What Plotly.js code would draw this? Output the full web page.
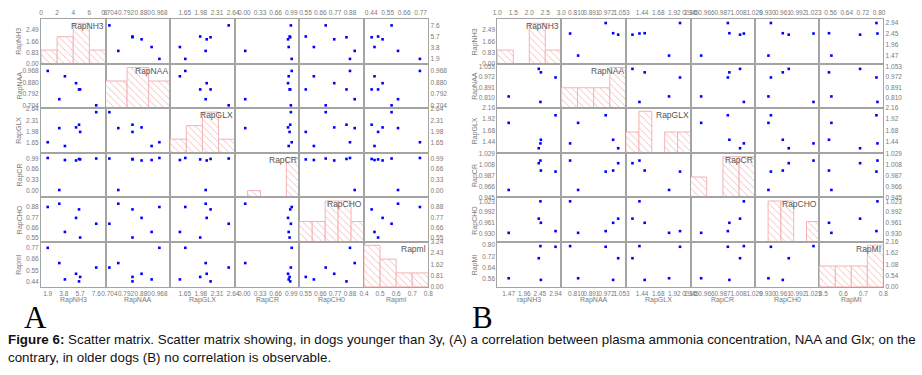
<!DOCTYPE html>
<html><head><meta charset="utf-8">
<script src="https://cdn.plot.ly/plotly-3.0.1.min.js"></script>
<style>html,body{margin:0;padding:0;background:#fff;}#chart{width:922px;height:375px;}</style>
</head><body><div id="chart"></div>
<script>
// ---------- DATA: panel A (dogs younger than 3y), one value per dog ----------
const nh3A = [1.90, 3.26, 3.92, 5.23, 5.58, 5.71, 7.60];
const naaA = [0.968, 0.751, 0.927, 0.874, 0.826, 0.826, 0.704];
const glxA = [1.662, 2.079, 1.551, 2.100, 2.179, 1.967, 2.550];
const crA  = [1.000, 0.018, 0.937, 0.923, 0.969, 0.956, 0.983];
const choA = [0.880, 0.915, 0.612, 0.763, 0.854, 0.552, 0.700];
const miA  = [0.765, 0.619, 0.462, 0.516, 0.443, 0.486, 0.576];
// ---------- DATA: panel B (older dogs) ----------
const nh3B = [1.47, 2.94, 2.48, 2.466, 2.414];
const naaB = [0.820, 0.968, 1.008, 0.777, 1.035];
const glxB = [1.841, 2.004, 1.478, 1.400, 1.296];
const crB  = [0.959, 0.994, 0.996, 1.015, 1.010];
const choB = [0.932, 0.937, 0.961, 1.023, 0.973];
const miB  = [0.564, 0.787, 0.552, 0.792, 0.706];

// ---------- variable names ----------
const diagNamesA   = ['RapNH3','RapNAA','RapGLX','RapCR','RapCHO','Rapml'];
const bottomNamesA = ['RapNH3','RapNAA','RapGLX','RapCR','RapCH0','Rapml'];
const leftNamesA   = ['RapNH3','RapNAA','RapGLX','RapCR','RapCHO','Rapml'];
const diagNamesB   = ['RapNH3','RapNAA','RapGLX','RapCR','RapCHO','RapMI'];
const bottomNamesB = ['rapNH3','RapNAA','RapGLX','RapCR','RapCH0','RapMI'];
const leftNamesB   = ['RapNH3','RapNAA','RapGLX','RapCR','RapCHO','RapMI'];

// ---------- tick labels ----------
const tNH3A = ['1.9','3.8','5.7','7.6'];
const tNAAA = ['0.704','0.792','0.880','0.968'];
const tGLXA = ['1.65','1.98','2.31','2.64'];
const tCRA  = ['0.00','0.33','0.66','0.99'];
const tCHOA = ['0.55','0.66','0.77','0.88'];
const tMIA  = ['0.44','0.55','0.66','0.77'];
const hxFirstA = ['0','2','4','6','8'];
const hyFirstA = ['0.00','0.83','1.66','2.49'];
const hxLastA  = ['0.4','0.5','0.6','0.7','0.8'];
const hyLastA  = ['0.00','0.81','1.62','2.43','3.24'];

const tNH3B = ['1.47','1.96','2.45','2.94'];
const tNAAB = ['0.810','0.891','0.972','1.053'];
const tGLXB = ['1.44','1.68','1.92','2.16'];
const tCRB  = ['0.945','0.966','0.987','1.008','1.029'];
const tCHOB = ['0.930','0.961','0.992','1.023'];
const tMIB  = ['0.56','0.64','0.72','0.80'];
const hxFirstB = ['1.0','1.5','2.0','2.5','3.0'];
const hyFirstB = ['0.00','0.83','1.66','2.49'];
const hxLastB  = ['0.5','0.6','0.7','0.8'];
const hyLastB  = ['0.00','0.54','1.08','1.62','2.16'];

// ---------- geometry / styling ----------
const W = 922, H = 375;
const rowsY = [19, 63.5, 108, 152.7, 197.3, 242, 286.7];
const colsA = [41, 105.5, 170.2, 234.7, 299.3, 364, 428.3];
const colsB = [497.3, 561.3, 626, 690.5, 755.3, 819.3, 883.3];

const cfgA = {
  data: [nh3A, naaA, glxA, crA, choA, miA],
  ticks: [tNH3A, tNAAA, tGLXA, tCRA, tCHOA, tMIA],
  ranges: [[1.111, 8.69], [0.6835, 1.025], [1.353, 2.673], [-0.205, 1.161], [0.5039, 0.984], [0.392, 0.821]],
  bins: [{start:0,end:8,size:2},{start:0.70,end:0.97,size:0.09},{start:1.32,end:2.64,size:0.33},
         {start:-0.25,end:1.05,size:0.26},{start:0.504,end:0.984,size:0.096},{start:0.4,end:0.8,size:0.1}],
  hmax: [3.32, 3.3, 3.3, 6.7, 2.18, 3.24],
  hxFirst: hxFirstA, hyFirst: hyFirstA, hxLast: hxLastA, hyLast: hyLastA,
  cols: colsA, diag: diagNamesA, bottom: bottomNamesA, left: leftNamesA,
  leftTitleX: 19.5, letter: 'A', letterX: 35.5
};
const cfgB = {
  data: [nh3B, naaB, glxB, crB, choB, miB],
  ticks: [tNH3B, tNAAB, tGLXB, tCRB, tCHOB, tMIB],
  ranges: [[1.113, 3.121], [0.7297, 1.077], [1.2, 2.16], [0.945, 1.030], [0.9055, 1.0347], [0.504, 0.821]],
  bins: [{start:1.0,end:3.0,size:0.5},{start:0.73,end:1.07,size:0.085},{start:1.2,end:2.16,size:0.192},
         {start:0.945,end:1.03,size:0.02125},{start:0.905,end:1.035,size:0.026},{start:0.48,end:0.80,size:0.08}],
  hmax: [3.32, 2.2, 2.16, 2.2, 2.18, 2.16],
  hxFirst: hxFirstB, hyFirst: hyFirstB, hxLast: hxLastB, hyLast: hyLastB,
  cols: colsB, diag: diagNamesB, bottom: bottomNamesB, left: leftNamesB,
  leftTitleX: 475, letter: 'B', letterX: 482.5
};

const tickFont = {family: 'Liberation Sans, Arial, sans-serif', size: 6.5, color: '#7a7a7a'};
const lineColor = '#a4a4a4';
const traces = [];
const layout = {
  width: W, height: H, margin: {l:0, r:0, t:0, b:0},
  paper_bgcolor: '#fff', plot_bgcolor: '#fff', showlegend: false, bargap: 0,
  annotations: []
};
let axN = 0;
const px = v => v / W;
const py = v => 1 - v / H;

function baseAxis() {
  return {showgrid:false, zeroline:false, showline:true, mirror:true, linecolor:lineColor, linewidth:1,
          ticks:'', tickangle:0, tickfont:tickFont, fixedrange:true, automargin:false};
}

function buildMatrix(cfg) {
  for (let r = 0; r < 6; r++) {
    for (let c = 0; c < 6; c++) {
      axN++;
      const xid = 'x' + (axN === 1 ? '' : axN), yid = 'y' + (axN === 1 ? '' : axN);
      const xname = 'xaxis' + (axN === 1 ? '' : axN), yname = 'yaxis' + (axN === 1 ? '' : axN);
      const xa = baseAxis(), ya = baseAxis();
      xa.domain = [px(cfg.cols[c]), px(cfg.cols[c + 1])];
      ya.domain = [py(rowsY[r + 1]), py(rowsY[r])];
      xa.anchor = yid; ya.anchor = xid;
      if (r === c) {
        const b = cfg.bins[c];
        traces.push({type:'histogram', x: cfg.data[c], xaxis: xid, yaxis: yid,
          xbins: {start: b.start, end: b.end, size: b.size}, autobinx: false,
          marker: {color:'#ffffff', line:{color:'#f3b3b3', width:1},
                   pattern:{shape:'\\', fgcolor:'#f4a4a4', bgcolor:'#ffffff', size:5, solidity:0.14}},
          hoverinfo:'skip'});
        xa.range = [b.start, b.end];
        ya.range = [0, cfg.hmax[c]];
        if (r === 0) { xa.tickvals = cfg.hxFirst.map(Number); xa.ticktext = cfg.hxFirst; }
        if (r === 5) { xa.tickvals = cfg.hxLast.map(Number); xa.ticktext = cfg.hxLast; }
        if (c === 0) { ya.tickvals = cfg.hyFirst.map(Number); ya.ticktext = cfg.hyFirst; }
        if (c === 5) { ya.tickvals = cfg.hyLast.map(Number); ya.ticktext = cfg.hyLast; }
        layout.annotations.push({xref:'paper', yref:'paper', x: px(cfg.cols[c + 1]) , y: py(rowsY[r]) ,
          xanchor:'right', yanchor:'top', showarrow:false, text: cfg.diag[c],
          font:{family:'Liberation Sans, Arial, sans-serif', size:8.5, color:'#555'}});
      } else {
        traces.push({type:'scatter', mode:'markers', x: cfg.data[c], y: cfg.data[r], xaxis: xid, yaxis: yid,
          marker:{symbol:'square', size:2.6, color:'#0000ff', line:{width:0}}, hoverinfo:'skip', cliponaxis:false});
        xa.range = cfg.ranges[c];
        ya.range = cfg.ranges[r];
        xa.tickvals = cfg.ticks[c].map(Number); xa.ticktext = cfg.ticks[c];
        ya.tickvals = cfg.ticks[r].map(Number); ya.ticktext = cfg.ticks[r];
      }
      xa.showticklabels = (r === 0 || r === 5);
      xa.side = r === 0 ? 'top' : 'bottom';
      ya.showticklabels = (c === 0 || c === 5);
      ya.side = c === 0 ? 'left' : 'right';
      layout[xname] = xa; layout[yname] = ya;
    }
  }
  const titleFont = {family:'Liberation Sans, Arial, sans-serif', size:7, color:'#7a7a7a'};
  for (let k = 0; k < 6; k++) {
    layout.annotations.push({xref:'paper', yref:'paper', x: px((cfg.cols[k] + cfg.cols[k + 1]) / 2), y: py(299.5),
      xanchor:'center', yanchor:'middle', showarrow:false, text: cfg.bottom[k], font: titleFont});
    layout.annotations.push({xref:'paper', yref:'paper', x: px(cfg.leftTitleX), y: py((rowsY[k] + rowsY[k + 1]) / 2),
      xanchor:'center', yanchor:'middle', showarrow:false, textangle:-90, text: cfg.left[k], font: titleFont});
  }
  layout.annotations.push({xref:'paper', yref:'paper', x: px(cfg.letterX), y: py(317.5), xanchor:'center', yanchor:'middle',
    showarrow:false, text: cfg.letter, font:{family:'Liberation Serif, Times New Roman, serif', size:31, color:'#000'}});
}
buildMatrix(cfgA);
buildMatrix(cfgB);

const capFont = {family:'Liberation Sans, Arial, sans-serif', size:13.35, color:'#111'};
layout.annotations.push({xref:'paper', yref:'paper', x: px(6), y: py(339.5), xanchor:'left', yanchor:'middle', showarrow:false,
  text:'<b>Figure 6:</b> Scatter matrix. Scatter matrix showing, in dogs younger than 3y, (A) a correlation between plasma ammonia concentration, NAA and Glx; on the',
  font: capFont});
layout.annotations.push({xref:'paper', yref:'paper', x: px(6), y: py(357.5), xanchor:'left', yanchor:'middle', showarrow:false,
  text:'contrary, in older dogs (B) no correlation is observable.', font: capFont});

Plotly.newPlot('chart', traces, layout, {staticPlot:true, displayModeBar:false});
</script></body></html>
